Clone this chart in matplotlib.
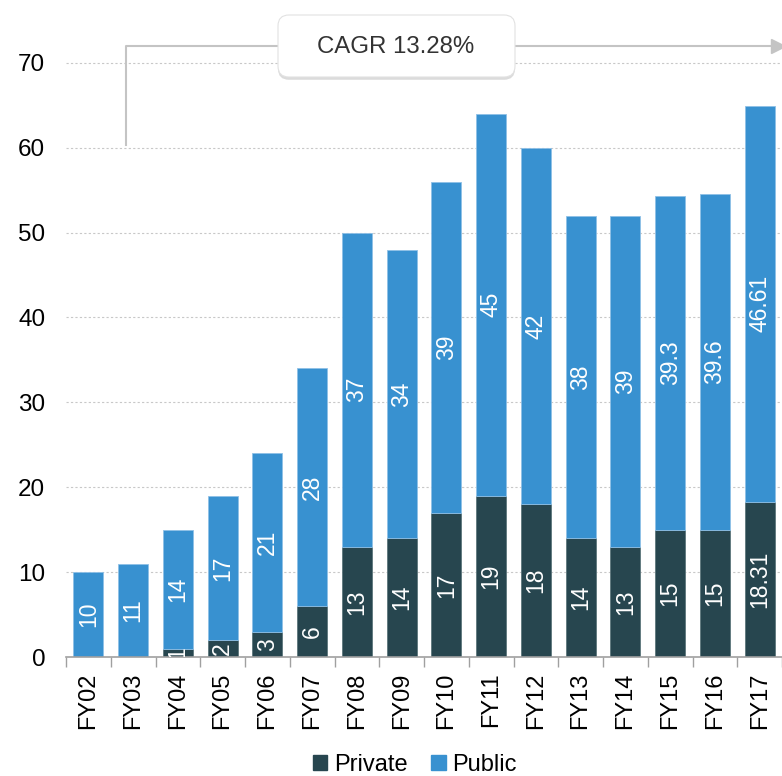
import matplotlib
matplotlib.use("Agg")
import matplotlib.pyplot as plt
from matplotlib.patches import Patch, FancyBboxPatch
from matplotlib import patheffects
import numpy as np

plt.rcParams["font.family"] = ["Liberation Sans", "DejaVu Sans"]

years = ["FY02", "FY03", "FY04", "FY05", "FY06", "FY07", "FY08", "FY09",
         "FY10", "FY11", "FY12", "FY13", "FY14", "FY15", "FY16", "FY17"]
private = [0, 0, 1, 2, 3, 6, 13, 14, 17, 19, 18, 14, 13, 15, 15, 18.31]
public = [10, 11, 14, 17, 21, 28, 37, 34, 39, 45, 42, 38, 39, 39.3, 39.6, 46.61]
cagr_text = "CAGR 13.28%"

c_private = "#27464F"
c_public = "#3891D0"
c_line = "#c4c4c4"

fig = plt.figure(figsize=(7.82, 7.76), dpi=100)
ax = fig.add_axes([66 / 782, 119 / 776, 716 / 782, 657 / 776])

x = np.arange(len(years))
w = 0.67
ax.bar(x, private, w, color=c_private, edgecolor="#5d767c", linewidth=0.6, zorder=2)
ax.bar(x, public, w, bottom=private, color=c_public, edgecolor="#8fc0e6",
       linewidth=0.6, zorder=2)

# value labels, rotated and centred in each segment
for xi, p, q in zip(x, private, public):
    if p > 0:
        ax.text(xi, p / 2, f"{p:g}", rotation=90, ha="center", va="center",
                color="white", fontsize=16.5, clip_on=True, zorder=3)
    ax.text(xi, p + q / 2, f"{q:g}", rotation=90, ha="center", va="center",
            color="white", fontsize=16.5, clip_on=True, zorder=3)

ax.set_xlim(-0.5, 15.29)
ax.set_ylim(0, 77.4)
ax.set_yticks(range(0, 71, 10))
ax.set_xticks(x)
ax.set_xticklabels(years, rotation=90)
ax.set_xticks(np.arange(-0.5, 16, 1), minor=True)
ax.tick_params(axis="x", which="major", length=0, pad=11, labelsize=17)
ax.tick_params(axis="x", which="minor", length=7, width=1, color="#a0a0a0", direction="out")
ax.tick_params(axis="y", length=0, pad=15, labelsize=17.5)

for s in ["top", "right", "left"]:
    ax.spines[s].set_visible(False)
ax.spines["bottom"].set_color("#a0a0a0")
ax.spines["bottom"].set_linewidth(1.2)

ax.yaxis.grid(True, color="#c8c8c8", linestyle=(0, (2, 2)), linewidth=0.8)
ax.set_axisbelow(True)

# growth bracket with arrow head at the far end
ax.plot([0.83, 0.83, 15.3], [60.3, 72, 72], color=c_line, lw=1.5,
        clip_on=False, zorder=4)
ax.plot([15.41], [72], marker=">", markersize=10, color=c_line,
        clip_on=False, zorder=4)

box = FancyBboxPatch((278 / 782, 1 - 77 / 776), 237 / 782, 62 / 776,
                     boxstyle="round,pad=0,rounding_size=0.014",
                     transform=fig.transFigure, facecolor="white",
                     edgecolor="#e2e2e2", linewidth=0.8, zorder=5)
box.set_path_effects([patheffects.SimplePatchShadow(offset=(0, -2), shadow_rgbFace="#888888", alpha=0.3),
                      patheffects.Normal()])
fig.patches.append(box)
fig.text(396 / 782, 1 - 47 / 776, cagr_text, ha="center", va="center",
         fontsize=17.3, color="#333333", zorder=6)

handles = [Patch(color=c_private, label="Private"), Patch(color=c_public, label="Public")]
fig.legend(handles=handles, loc="center", bbox_to_anchor=(415 / 782, 1 - 765 / 776),
           ncol=2, frameon=False, fontsize=17, handlelength=0.6, handleheight=0.6,
           handletextpad=0.3, columnspacing=1.0, borderaxespad=0)

fig.savefig("out.png", dpi=100)
